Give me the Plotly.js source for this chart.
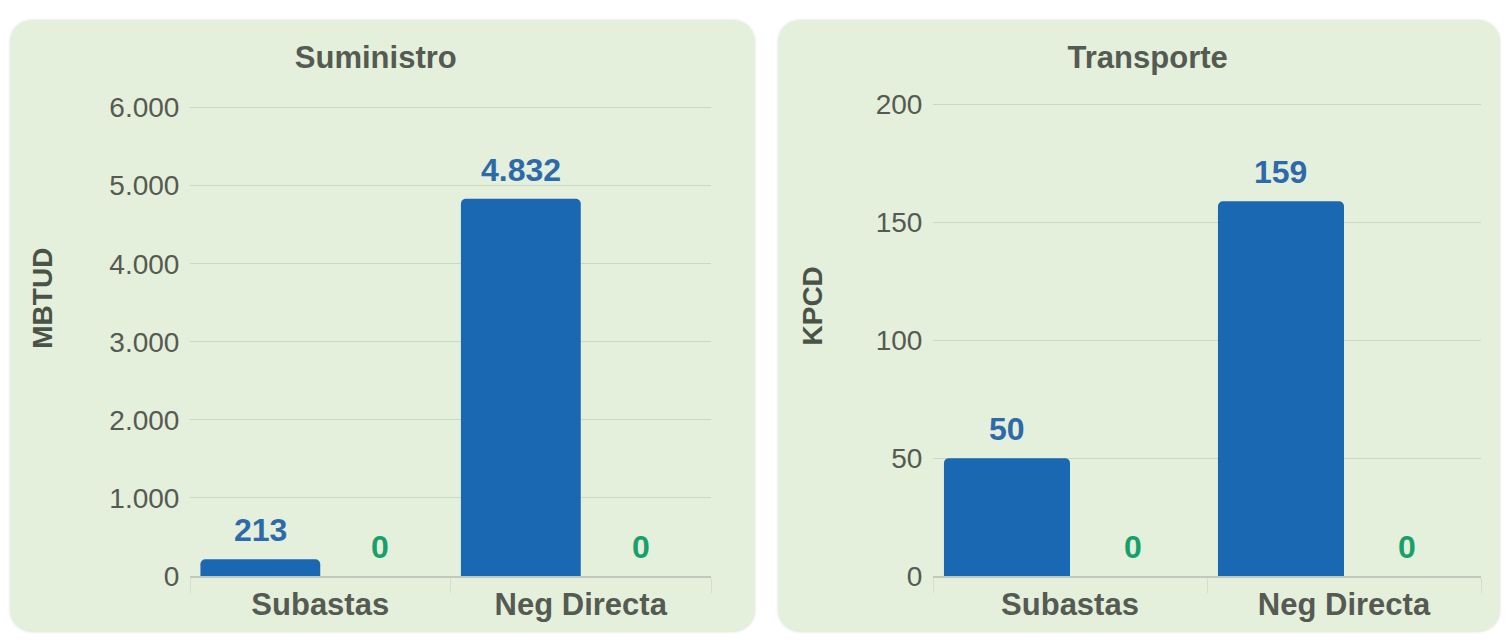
<!DOCTYPE html>
<html>
<head>
<meta charset="utf-8">
<script src="https://cdn.plot.ly/plotly-3.0.1.min.js"></script>
<style>
  html, body { margin: 0; padding: 0; background: #ffffff; width: 1512px; height: 640px; overflow: hidden; }
  .panel { position: absolute; top: 20px; height: 612px; background: #e4f0db; border-radius: 22px; box-shadow: 0 0 3px rgba(0,0,0,0.12); overflow: hidden; }
  #left { left: 10px; width: 745px; }
  #right { left: 778px; width: 722px; }
</style>
</head>
<body>
<div id="left" class="panel"></div>
<div id="right" class="panel"></div>
<script>
// ---- data ----
const categories = ["Subastas", "Neg Directa"];
const suministroAdjudicado = [213, 4832];
const suministroOtro = [0, 0];
const transporteAdjudicado = [50, 159];
const transporteOtro = [0, 0];
const suministroTitle = "Suministro";
const transporteTitle = "Transporte";
const suministroUnit = "MBTUD";
const transporteUnit = "KPCD";
const suministroRange = [0, 6000];
const transporteRange = [0, 200];
const suministroStep = 1000;
const transporteStep = 50;

// ---- style ----
const FONT = "'Liberation Sans', Arial, sans-serif";
const BLUE = "#1a68b2";
const BLUE_TEXT = "#2c6aaa";
const GREEN_TEXT = "#18a06c";
const GREY = "#555a52";
const BARGAP = 0.08;
const HEADROOM = 1.012;

function fmt(v) {
  return v.toString().replace(/\B(?=(\d{3})+(?!\d))/g, ".");
}

function makeChart(id, blue, green, title, unit, range, step, opts) {
  const off = (1 - BARGAP) / 4;
  const traces = [
    { type: "bar", x: categories, y: blue, marker: { color: BLUE, cornerradius: 5 }, hoverinfo: "none" },
    { type: "bar", x: categories, y: green, marker: { color: "#19a06d", cornerradius: 5 }, hoverinfo: "none" }
  ];
  const annotations = [];
  categories.forEach((c, i) => {
    annotations.push({ x: i - off, y: blue[i], xref: "x", yref: "y", text: fmt(blue[i]),
      showarrow: false, yanchor: "bottom", yshift: 9,
      font: { family: FONT, size: 32, color: BLUE_TEXT, weight: "bold" } });
    annotations.push({ x: i + off, y: green[i], xref: "x", yref: "y", text: fmt(green[i]),
      showarrow: false, yanchor: "bottom", yshift: 9,
      font: { family: FONT, size: 32, color: GREEN_TEXT, weight: "bold" } });
  });
  annotations.push({ x: 0, xref: "paper", xanchor: "center", xshift: opts.ux,
    y: opts.uy, yref: "paper", yanchor: "middle", textangle: -90, showarrow: false,
    text: "<b>" + unit + "</b>", font: { family: FONT, size: 28, color: "#4b5348" } });
  const top = range[1] * HEADROOM;
  const layout = {
    width: opts.w, height: 612,
    margin: opts.m,
    paper_bgcolor: "rgba(0,0,0,0)",
    plot_bgcolor: "rgba(0,0,0,0)",
    separators: ",.",
    barmode: "group",
    bargap: BARGAP,
    bargroupgap: 0,
    showlegend: false,
    title: { text: "<b>" + title + "</b>", x: opts.tx, xref: "container", xanchor: "center",
      y: 1 - 37 / 612, yref: "container", yanchor: "middle",
      font: { family: FONT, size: 31, color: GREY } },
    xaxis: {
      type: "category",
      tickfont: { family: FONT, size: 31, color: GREY, weight: "bold" },
      showline: true, linecolor: "#c3c8bd", linewidth: 2,
      ticks: "outside", tickson: "boundaries", ticklen: 15, tickcolor: "#d5ddcd", tickwidth: 1,
      showgrid: false, fixedrange: true
    },
    yaxis: {
      range: [range[0], top], dtick: step, tick0: 0, tickformat: ",d",
      tickfont: { family: FONT, size: 28, color: GREY },
      ticks: "outside", ticklen: 4, tickcolor: "rgba(0,0,0,0)",
      showgrid: true, gridcolor: "#cbd8c2", gridwidth: 1,
      zeroline: false, showline: false, fixedrange: true
    },
    annotations: annotations
  };
  Plotly.newPlot(id, traces, layout, { staticPlot: true, displayModeBar: false });
}

makeChart("left", suministroAdjudicado, suministroOtro, suministroTitle, suministroUnit,
  suministroRange, suministroStep, { w: 745, m: { l: 180, r: 44, t: 82, b: 56 }, tx: 0.491, ux: -147, uy: 0.585 });
makeChart("right", transporteAdjudicado, transporteOtro, transporteTitle, transporteUnit,
  transporteRange, transporteStep, { w: 722, m: { l: 155, r: 19, t: 79, b: 56 }, tx: 0.512, ux: -121, uy: 0.565 });
</script>
</body>
</html>
